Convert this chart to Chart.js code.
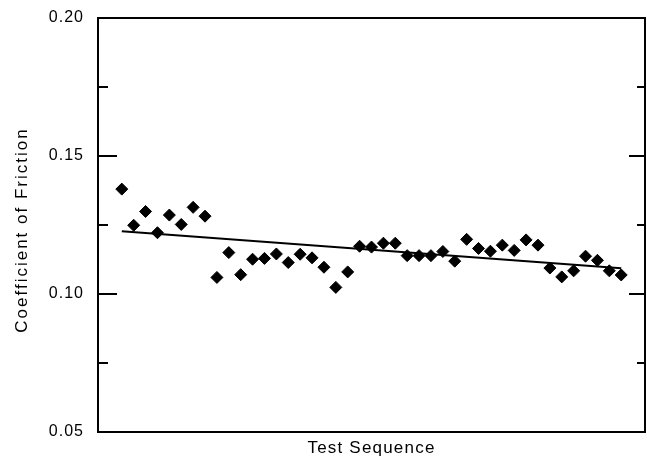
<!DOCTYPE html>
<html>
<head>
<meta charset="utf-8">
<script src="https://cdn.jsdelivr.net/npm/chart.js@4.4.0/dist/chart.umd.min.js"></script>
<style>
  html, body { margin: 0; padding: 0; background: #fff; }
  canvas { display: block; }
</style>
</head>
<body>
<canvas id="chartId" width="647" height="459"></canvas>
<script>
// test number along the sequence
var testIndex = [1, 2, 3, 4, 5, 6, 7, 8, 9, 10, 11, 12, 13, 14, 15, 16, 17, 18, 19, 20, 21, 22,
    23, 24, 25, 26, 27, 28, 29, 30, 31, 32, 33, 34, 35, 36, 37, 38, 39, 40, 41, 42, 43];
// measured coefficient of friction
var friction = [0.1380, 0.1249, 0.1299, 0.1222, 0.1286, 0.1252, 0.1314, 0.1282, 0.1060, 0.1150,
    0.1070, 0.1126, 0.1129, 0.1145, 0.1114, 0.1144, 0.1131, 0.1097, 0.1024, 0.1080,
    0.1173, 0.1170, 0.1184, 0.1184, 0.1139, 0.1139, 0.1139, 0.1154, 0.1119, 0.1198,
    0.1165, 0.1155, 0.1177, 0.1158, 0.1196, 0.1177, 0.1094, 0.1062, 0.1084, 0.1137,
    0.1122, 0.1084, 0.1069];
// fitted trend line end points
var trendX = [1, 43];
var trendY = [0.1227, 0.1093];
// y axis tick marks
var majorTicks = [0.10, 0.15];
var minorTicks = [0.075, 0.125, 0.175];
var yLabels = [0.05, 0.10, 0.15, 0.20];

var fontFamily = "'Liberation Sans', Arial, Helvetica, sans-serif";

var boxTicks = {
    id: 'boxTicks',
    beforeDraw: function (chart) {
        chart.ctx.letterSpacing = '1px';
    },
    afterDraw: function (chart) {
        var ctx = chart.ctx;
        var area = chart.chartArea;
        var y = chart.scales.y;
        ctx.save();
        ctx.strokeStyle = '#000';
        ctx.lineWidth = 2;
        ctx.beginPath();
        majorTicks.forEach(function (v) {
            var p = y.getPixelForValue(v);
            ctx.moveTo(area.left, p); ctx.lineTo(area.left + 19, p);
            ctx.moveTo(area.right, p); ctx.lineTo(area.right - 16, p);
        });
        minorTicks.forEach(function (v) {
            var p = y.getPixelForValue(v);
            ctx.moveTo(area.left, p); ctx.lineTo(area.left + 10, p);
            ctx.moveTo(area.right, p); ctx.lineTo(area.right - 8, p);
        });
        ctx.stroke();

        // axis titles
        ctx.fillStyle = '#000';
        ctx.textAlign = 'center';
        ctx.textBaseline = 'middle';
        ctx.font = '17px ' + fontFamily;
        ctx.letterSpacing = '1.2px';
        ctx.fillText('Test Sequence', (area.left + area.right) / 2, 448);
        ctx.letterSpacing = '2px';
        ctx.translate(22, (area.top + area.bottom) / 2 + 5);
        ctx.rotate(-Math.PI / 2);
        ctx.fillText('Coefficient of Friction', 0, 0);
        ctx.restore();
    }
};

var chrt = document.getElementById("chartId").getContext("2d");
var chartId = new Chart(chrt, {
    type: 'scatter',
    data: {
        datasets: [{
            label: 'Coefficient of Friction',
            data: testIndex.map(function (x, i) { return { x: x, y: friction[i] }; }),
            pointStyle: 'rectRot',
            pointRadius: 6,
            pointHoverRadius: 6,
            backgroundColor: '#000',
            borderColor: '#000',
            borderWidth: 1,
            order: 0
        }, {
            type: 'line',
            label: 'Trend',
            data: trendX.map(function (x, i) { return { x: x, y: trendY[i] }; }),
            borderColor: '#000',
            borderWidth: 2,
            pointRadius: 0,
            fill: false,
            order: 1
        }]
    },
    options: {
        responsive: false,
        animation: false,
        devicePixelRatio: 1,
        layout: { padding: 0, autoPadding: false },
        plugins: {
            legend: { display: false },
            tooltip: { enabled: false }
        },
        scales: {
            x: {
                type: 'linear',
                position: 'bottom',
                min: -1,
                max: 45,
                ticks: { display: false },
                grid: { display: false },
                border: { display: true, color: '#000', width: 2 },
                afterFit: function (s) { s.height = 27; }
            },
            x2: {
                type: 'linear',
                position: 'top',
                min: -1,
                max: 45,
                ticks: { display: false },
                grid: { display: false },
                border: { display: true, color: '#000', width: 2 },
                afterFit: function (s) { s.height = 18; }
            },
            y: {
                position: 'left',
                min: 0.05,
                max: 0.20,
                afterBuildTicks: function (s) {
                    s.ticks = yLabels.map(function (v) { return { value: v }; });
                },
                ticks: {
                    color: '#000',
                    padding: 6,
                    font: { family: fontFamily, size: 16 },
                    callback: function (v) { return v.toFixed(2); }
                },
                grid: { display: false },
                border: { display: true, color: '#000', width: 2 },
                afterFit: function (s) { s.width = 98; }
            },
            y2: {
                position: 'right',
                min: 0.05,
                max: 0.20,
                ticks: { display: false },
                grid: { display: false },
                border: { display: true, color: '#000', width: 2 },
                afterFit: function (s) { s.width = 2; }
            }
        }
    },
    plugins: [boxTicks]
});
</script>
</body>
</html>
